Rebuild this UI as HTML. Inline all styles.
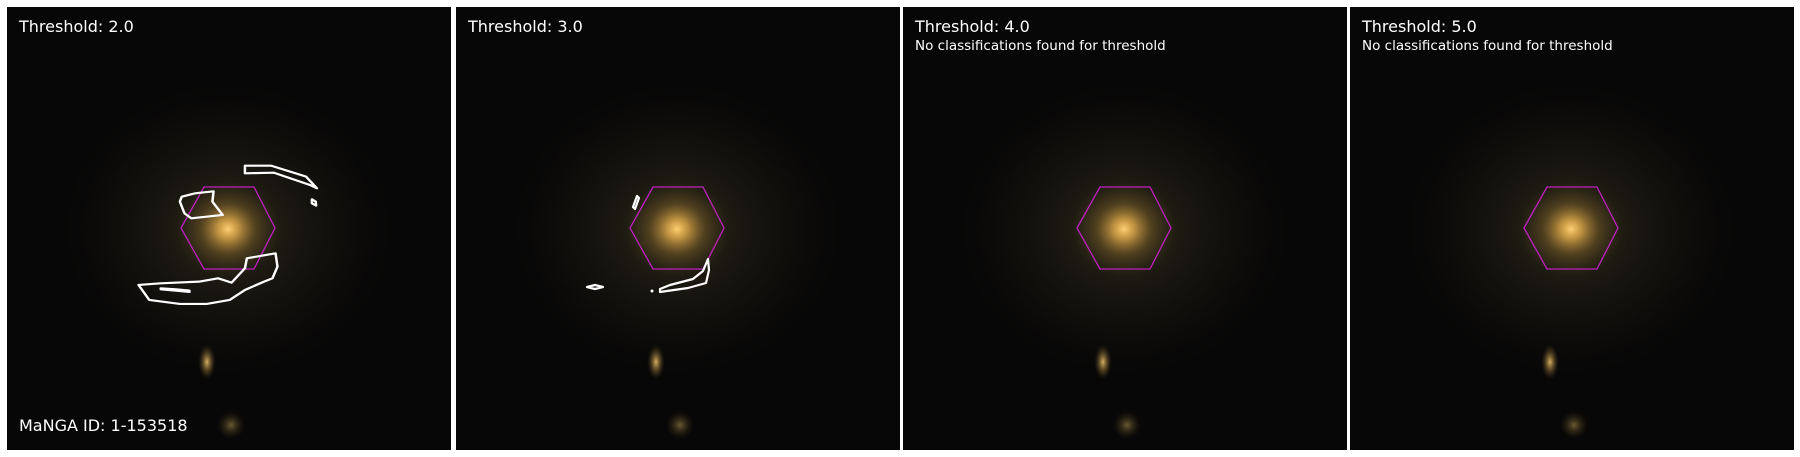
<!DOCTYPE html>
<html><head><meta charset="utf-8"><style>
body{margin:0;background:#fff;width:1800px;height:457px;overflow:hidden;font-family:"DejaVu Sans","Liberation Sans",sans-serif}
svg{display:block}
</style></head><body>
<svg id="s" width="1800" height="457">
<defs>
<radialGradient id="halo"><stop offset="0" stop-color="#5a4c28" stop-opacity="0.6"/><stop offset="0.35" stop-color="#2e2a1a" stop-opacity="0.5"/><stop offset="0.7" stop-color="#181812" stop-opacity="0.35"/><stop offset="1" stop-color="#0a0a08" stop-opacity="0"/></radialGradient>
<radialGradient id="core"><stop offset="0" stop-color="#ffd070"/><stop offset="0.2" stop-color="#d9a548" stop-opacity="0.85"/><stop offset="0.55" stop-color="#7a5e2a" stop-opacity="0.45"/><stop offset="1" stop-color="#4a3d20" stop-opacity="0"/></radialGradient>
<radialGradient id="blob"><stop offset="0" stop-color="#d8b060"/><stop offset="0.5" stop-color="#7a6030" stop-opacity="0.6"/><stop offset="1" stop-color="#2a2010" stop-opacity="0"/></radialGradient>
<radialGradient id="blob2"><stop offset="0" stop-color="#6a5a30"/><stop offset="1" stop-color="#2a2010" stop-opacity="0"/></radialGradient>
</defs>
</svg>
<script>
const panelX=[7,456,903,1350];
const thresholds=["2.0","3.0","4.0","5.0"];
const noClass=[false,false,true,true];
const ns="http://www.w3.org/2000/svg";
const s=document.getElementById('s');
function el(t,a,p){const e=document.createElementNS(ns,t);for(const k in a)e.setAttribute(k,a[k]);(p||s).appendChild(e);return e;}
panelX.forEach((x0,i)=>{
 const g=el('g',{transform:`translate(${x0},7)`});
 
 
 el('rect',{x:0,y:0,width:444,height:443,fill:'#080707'},g);
 el('ellipse',{cx:221,cy:222,rx:170,ry:150,fill:'url(#halo)'},g);
 el('ellipse',{cx:221,cy:222,rx:52,ry:48,fill:'url(#core)'},g);
 el('ellipse',{cx:200,cy:355,rx:9,ry:18,fill:'url(#blob)'},g);
 el('ellipse',{cx:224,cy:418,rx:14,ry:14,fill:'url(#blob2)'},g);
 const hex=el('polygon',{points:'174,221 197,180 247,180 268,221 247,262 197,262',fill:'none',stroke:'#c020c0','stroke-width':1.3},g);
 
 
 const t=el('text',{x:12,y:25,fill:'#fff','font-size':16},g);t.textContent='Threshold: '+thresholds[i];
 
 
 if(noClass[i]){const n=el('text',{x:12,y:43,fill:'#fff','font-size':13.5},g);n.textContent='No classifications found for threshold';
  
  }
 if(i===0){const m=el('text',{x:12,y:424,fill:'#fff','font-size':16},g);m.textContent='MaNGA ID: 1-153518';
  
  }
});
const c1=[
 [[640,497],[708,497],[800,530],[828,565],[810,555],[715,518],[640,520]],
 [[815,598],[825,605],[826,617],[815,610]],
 [[475,590],[510,580],[558,574],[555,605],[582,645],[500,655],[482,640],[470,605]],
 [[362,855],[420,850],[520,845],[570,835],[605,848],[640,805],[645,775],[720,760],[725,800],[712,835],[690,845],[640,870],[600,900],[540,912],[470,912],[390,900]],
 [[420,865],[460,868],[495,872],[495,876],[460,872],[420,868]]
];
const g1=el('g',{transform:'scale(0.3827,0.3333)'});


c1.forEach(p=>el('polygon',{points:p.map(q=>q.join(',')).join(' '),fill:'none',stroke:'#fff','stroke-width':6.5,'stroke-linejoin':'round'},g1));
const c2=[
 [[637,196],[639,198],[635,209],[633,207]],
 [[587,287],[595,285],[603,287],[595,289]],
 [[660,289],[670,285],[693,279],[703,271],[708,259],[709,270],[706,283],[688,288],[660,292]]
];
const g2=el('g',{});


c2.forEach(p=>el('polygon',{points:p.map(q=>q.join(',')).join(' '),fill:'none',stroke:'#fff','stroke-width':2.2,'stroke-linejoin':'round'},g2));
el('circle',{cx:652,cy:291,r:1.5,fill:'#fff'},g2);
</script>
</body></html>
